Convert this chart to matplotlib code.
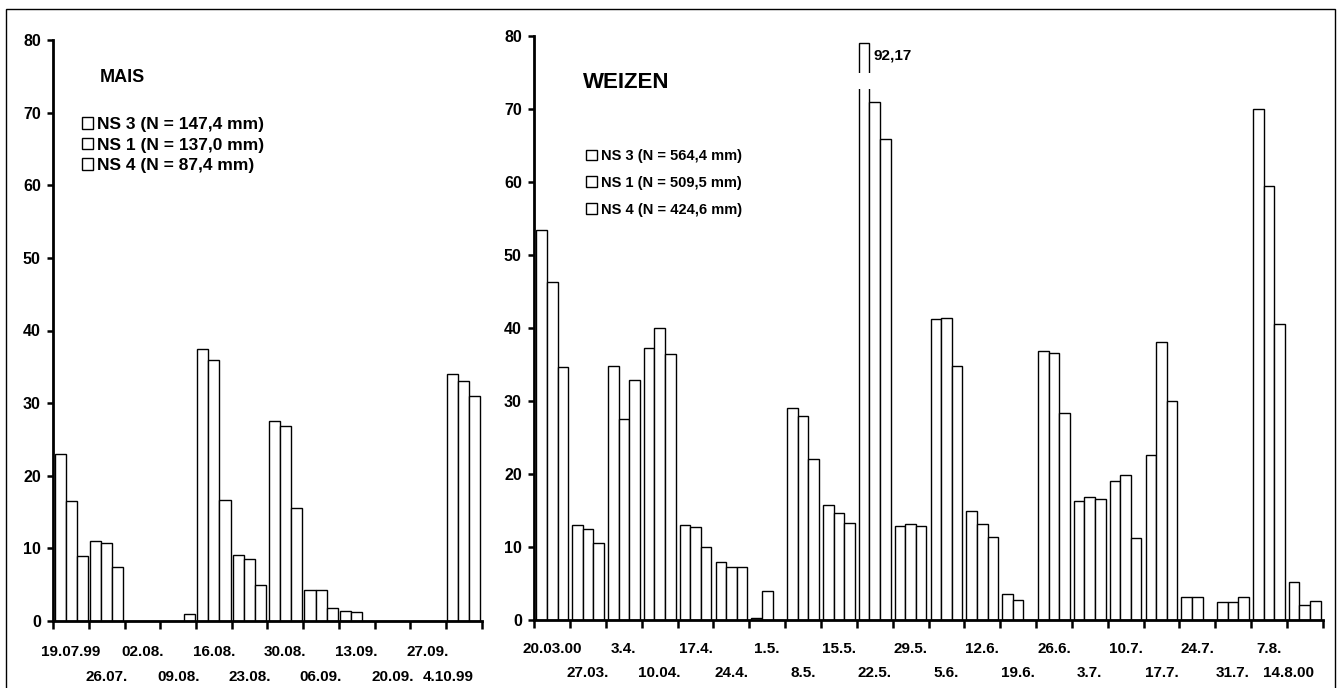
import matplotlib
matplotlib.use("Agg")
import matplotlib.pyplot as plt
from matplotlib.patches import Rectangle
import numpy as np

plt.rcParams['font.family'] = ['Liberation Sans', 'DejaVu Sans']
plt.rcParams['font.weight'] = 'bold'

# ---------------- data ----------------
mais_dates = ["19.07.99", "26.07.", "02.08.", "09.08.", "16.08.", "23.08.",
              "30.08.", "06.09.", "13.09.", "20.09.", "27.09.", "4.10.99"]
mais_ns3 = [23.0, 11.0, 0, 0, 37.5, 9.1, 27.6, 4.2, 1.4, 0, 0, 34.0]
mais_ns1 = [16.5, 10.8, 0, 0, 36.0, 8.5, 26.8, 4.2, 1.2, 0, 0, 33.1]
mais_ns4 = [9.0, 7.5, 0, 1.0, 16.7, 5.0, 15.6, 1.8, 0, 0, 0, 31.0]
mais_labels = ["NS 3 (N = 147,4 mm)", "NS 1 (N = 137,0 mm)", "NS 4 (N = 87,4 mm)"]

weizen_dates = ["20.03.00", "27.03.", "3.4.", "10.04.", "17.4.", "24.4.", "1.5.",
                "8.5.", "15.5.", "22.5.", "29.5.", "5.6.", "12.6.", "19.6.",
                "26.6.", "3.7.", "10.7.", "17.7.", "24.7.", "31.7.", "7.8.", "14.8.00"]
weizen_ns3 = [53.4, 13.0, 34.8, 37.2, 13.0, 8.0, 0.3, 29.0, 15.8, 92.17, 12.9,
              41.2, 14.9, 3.6, 36.8, 16.3, 19.1, 22.6, 3.1, 2.5, 70.0, 5.2]
weizen_ns1 = [46.3, 12.4, 27.5, 40.0, 12.8, 7.3, 4.0, 27.9, 14.7, 70.9, 13.1,
              41.4, 13.1, 2.7, 36.6, 16.9, 19.8, 38.1, 3.1, 2.5, 59.5, 2.0]
weizen_ns4 = [34.7, 10.5, 32.9, 36.4, 10.0, 7.3, 0, 22.1, 13.3, 65.9, 12.9,
              34.8, 11.4, 0, 28.3, 16.6, 11.2, 30.0, 0, 3.1, 40.5, 2.6]
weizen_labels = ["NS 3 (N = 564,4 mm)", "NS 1 (N = 509,5 mm)", "NS 4 (N = 424,6 mm)"]

yticks = [0, 10, 20, 30, 40, 50, 60, 70, 80]

W, H = 1337, 688
fig = plt.figure(figsize=(W / 100, H / 100), dpi=100)


def px_axes(x0, y0, x1, y1):
    return fig.add_axes([x0 / W, 1 - y1 / H, (x1 - x0) / W, (y1 - y0) / H])


def style_axes(ax, dates, row1, row2):
    n = len(dates)
    ax.set_xlim(0, n)
    ax.set_ylim(0, 80)
    for s in ['top', 'right']:
        ax.spines[s].set_visible(False)
    ax.spines['left'].set_linewidth(2.0)
    ax.spines['bottom'].set_linewidth(2.0)
    ax.set_yticks(yticks)
    ax.set_yticklabels([str(v) for v in yticks], fontsize=11.5, fontweight='bold')
    ax.tick_params(axis='y', direction='out', length=4, width=1.8, pad=5)
    ax.set_xticks(np.arange(n + 1))
    ax.set_xticklabels([])
    ax.tick_params(axis='x', which='major', direction='out', length=6, width=1.8)
    tr = ax.get_xaxis_transform()
    for i, d in enumerate(dates):
        xc = i + 0.5
        if i == n - 1:
            xc -= 0.45   # last label pulled inside the axis end, as in the original
        ax.text(xc, row1 if i % 2 == 0 else row2, d, transform=tr,
                ha='center', va='center', fontsize=11, fontweight='bold',
                clip_on=False)


def draw_bars(ax, s3, s1, s4, bw, cap=None):
    x = np.arange(len(s3)) + 0.5
    h3 = np.array(s3, dtype=float)
    if cap is not None:
        h3 = np.minimum(h3, cap)
    kw = dict(width=bw, color='white', edgecolor='black', linewidth=1.0, zorder=2)
    b3 = ax.bar(x - bw, h3, **kw)
    b1 = ax.bar(x, s1, **kw)
    b4 = ax.bar(x + bw, s4, **kw)
    return x, (b3, b1, b4)


# ---------------- MAIS ----------------
ax1 = px_axes(53.3, 40, 481.7, 621)
style_axes(ax1, mais_dates, -0.053, -0.096)
x1, bars1 = draw_bars(ax1, mais_ns3, mais_ns1, mais_ns4, 0.31)
fig.text(100 / W, 1 - 78 / H, "MAIS", fontsize=13, fontweight='bold', va='center', ha='left')
leg1 = fig.legend(bars1, mais_labels, loc='upper left',
                  bbox_to_anchor=(82 / W, 1 - 117 / H), frameon=False,
                  prop={'size': 12.5, 'weight': 'bold'}, handlelength=0.62,
                  handleheight=0.62, handletextpad=0.25, labelspacing=0.32,
                  borderpad=0, borderaxespad=0)

# ---------------- WEIZEN ----------------
ax2 = px_axes(534.3, 36, 1322.7, 620)
style_axes(ax2, weizen_dates, -0.050, -0.091)
cap = 79.0
bw = 0.295
x2, bars2 = draw_bars(ax2, weizen_ns3, weizen_ns1, weizen_ns4, bw, cap=cap)
imax = int(np.argmax(weizen_ns3))
ax2.add_patch(Rectangle((x2[imax] - 1.5 * bw - 0.05, 72.8), bw + 0.1, 2.2,
                        facecolor='white', edgecolor='none', zorder=3))
ax2.text(x2[imax] - 0.5 * bw + 0.1, 77.3, f"{weizen_ns3[imax]:.2f}".replace('.', ','),
         fontsize=11, fontweight='bold', va='center', ha='left')
fig.text(583 / W, 1 - 82 / H, "WEIZEN", fontsize=16, fontweight='bold', va='center', ha='left')
leg2 = fig.legend(bars2, weizen_labels, loc='upper left',
                  bbox_to_anchor=(586 / W, 1 - 149 / H), frameon=False,
                  prop={'size': 10.5, 'weight': 'bold'}, handlelength=0.75,
                  handleheight=0.75, handletextpad=0.3, labelspacing=0.88,
                  borderpad=0, borderaxespad=0)

# outer frame
fig.add_artist(Rectangle((6 / W, -0.05), (1335 - 6) / W, 1.05 - 9 / H,
                         transform=fig.transFigure, fill=False,
                         edgecolor='black', linewidth=1.0))

fig.savefig("out.png", dpi=100)
